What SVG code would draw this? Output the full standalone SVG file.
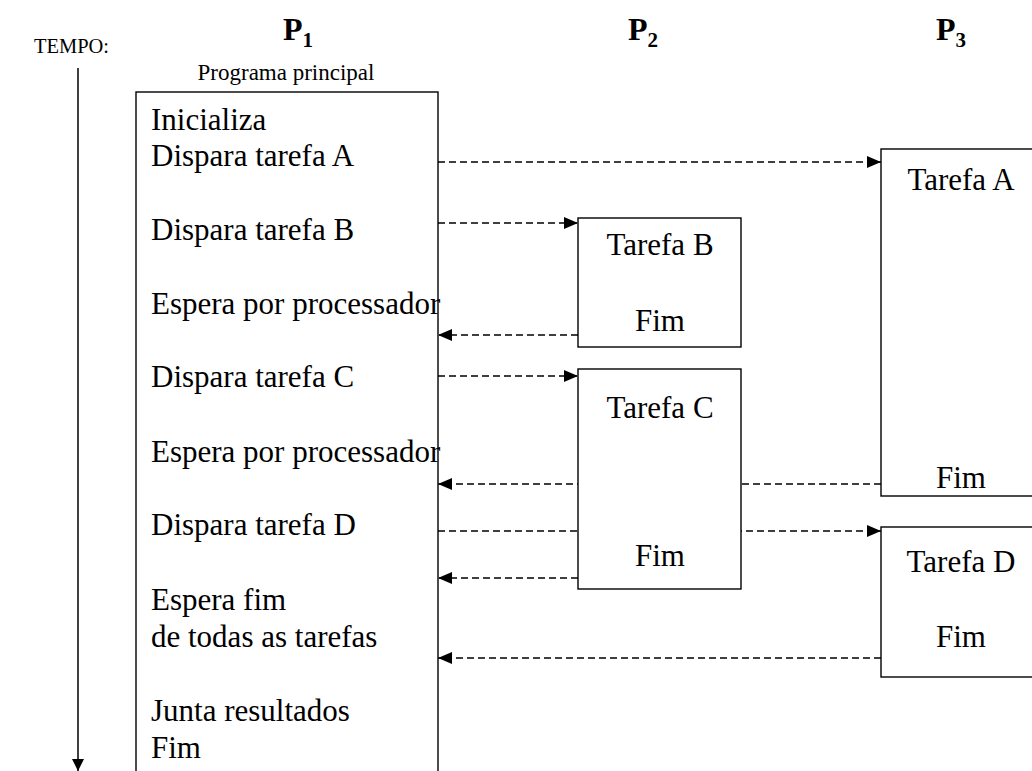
<svg xmlns="http://www.w3.org/2000/svg" width="1032" height="771" viewBox="0 0 1032 771" font-family="'Liberation Serif', 'DejaVu Serif', serif">
<style>
text{font-family:'Liberation Serif','DejaVu Serif',serif;fill:#000}
.lbl{font-size:31px}
.mid{text-anchor:middle}
.hd{font-size:32px;font-weight:bold}
.sb{font-size:21px;font-weight:bold}
.box{fill:#fff;stroke:#000;stroke-width:1.4}
.dash{fill:none;stroke:#000;stroke-width:1.3;stroke-dasharray:7 4}
</style>
<defs>
<marker id="ah" markerWidth="14" markerHeight="12" refX="14" refY="6" orient="auto" markerUnits="userSpaceOnUse">
<path d="M0,0 L14,6 L0,12 Z" fill="#000"/>
</marker>
<marker id="av" markerWidth="12" markerHeight="12" refX="12" refY="6" orient="auto" markerUnits="userSpaceOnUse">
<path d="M0,0 L12,6 L0,12 Z" fill="#000"/>
</marker>
</defs>
<g id="header">
<text x="34" y="53" font-size="22" textLength="75" lengthAdjust="spacingAndGlyphs">TEMPO:</text>
<text x="283" y="40" class="hd">P<tspan class="sb" dy="7">1</tspan></text>
<text x="628" y="40" class="hd">P<tspan class="sb" dy="7">2</tspan></text>
<text x="936" y="40" class="hd">P<tspan class="sb" dy="7">3</tspan></text>
<text x="286" y="80" font-size="23" text-anchor="middle">Programa principal</text>
</g>
<g id="connectors">
<line x1="78" y1="68" x2="78" y2="771" stroke="#000" stroke-width="1.5" marker-end="url(#av)"/>
<line class="dash" x1="438" y1="162" x2="881" y2="162" marker-end="url(#ah)"/>
<line class="dash" x1="438" y1="223" x2="578" y2="223" marker-end="url(#ah)"/>
<line class="dash" x1="578" y1="335" x2="438" y2="335" marker-end="url(#ah)"/>
<line class="dash" x1="438" y1="376" x2="578" y2="376" marker-end="url(#ah)"/>
<line class="dash" x1="881" y1="484" x2="438" y2="484" marker-end="url(#ah)"/>
<line class="dash" x1="438" y1="531" x2="881" y2="531" marker-end="url(#ah)"/>
<line class="dash" x1="578" y1="578" x2="438" y2="578" marker-end="url(#ah)"/>
<line class="dash" x1="881" y1="658" x2="438" y2="658" marker-end="url(#ah)"/>
</g>
<g id="p1">
<rect class="box" x="136" y="92" width="302" height="700" style="fill:none"/>
<text class="lbl" x="151" y="130">Inicializa</text>
<text class="lbl" x="151" y="166">Dispara tarefa A</text>
<text class="lbl" x="151" y="240">Dispara tarefa B</text>
<text class="lbl" x="151" y="314">Espera por processador</text>
<text class="lbl" x="151" y="387">Dispara tarefa C</text>
<text class="lbl" x="151" y="462">Espera por processador</text>
<text class="lbl" x="151" y="535">Dispara tarefa D</text>
<text class="lbl" x="151" y="610">Espera fim</text>
<text class="lbl" x="151" y="647">de todas as tarefas</text>
<text class="lbl" x="151" y="721">Junta resultados</text>
<text class="lbl" x="151" y="758">Fim</text>
</g>
<g id="tarefaB">
<rect class="box" x="578" y="218" width="163" height="129"/>
<text class="lbl mid" x="660" y="255">Tarefa B</text>
<text class="lbl mid" x="660" y="331">Fim</text>
</g>
<g id="tarefaC">
<rect class="box" x="578" y="369" width="163" height="220"/>
<text class="lbl mid" x="660" y="418">Tarefa C</text>
<text class="lbl mid" x="660" y="566">Fim</text>
</g>
<g id="tarefaA">
<rect class="box" x="881" y="149" width="170" height="347"/>
<text class="lbl mid" x="961" y="190">Tarefa A</text>
<text class="lbl mid" x="961" y="488">Fim</text>
</g>
<g id="tarefaD">
<rect class="box" x="881" y="527" width="170" height="150"/>
<text class="lbl mid" x="961" y="572">Tarefa D</text>
<text class="lbl mid" x="961" y="647">Fim</text>
</g>
</svg>
